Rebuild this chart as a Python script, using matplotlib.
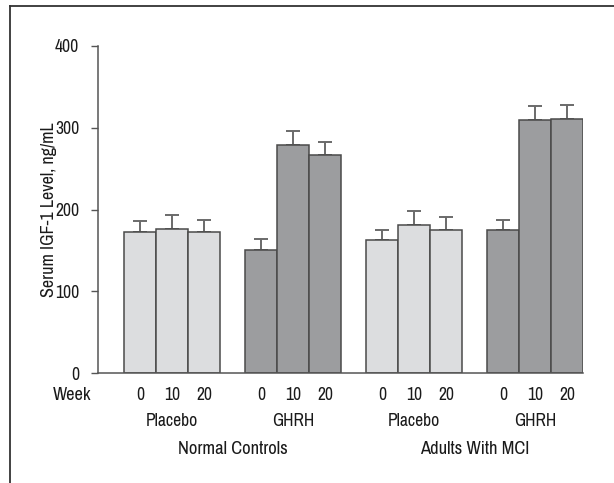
import matplotlib
matplotlib.use("Agg")
import matplotlib.pyplot as plt
import matplotlib.transforms as mtransforms
from matplotlib.lines import Line2D

plt.rcParams['font.family'] = ['Archivo Narrow', 'DejaVu Sans']

groups = ["Normal Controls", "Adults With MCI"]
treatments = ["Placebo", "GHRH", "Placebo", "GHRH"]
weeks = ["0", "10", "20"]
nc_placebo = [173, 176, 172]
nc_ghrh = [151, 279, 267]
mci_placebo = [163, 181, 175]
mci_ghrh = [175, 309, 311]
err_nc_placebo = [13, 17, 15]
err_nc_ghrh = [13, 17, 15]
err_mci_placebo = [12, 17, 16]
err_mci_ghrh = [12, 18, 17]

series = [nc_placebo, nc_ghrh, mci_placebo, mci_ghrh]
errors = [err_nc_placebo, err_nc_ghrh, err_mci_placebo, err_mci_ghrh]
colors = ["#dcdddf", "#9c9d9f", "#dcdddf", "#9c9d9f"]

W, H = 614, 483
AX_L, AX_R, AX_T, AX_B = 98, 583, 46, 373
fig = plt.figure(figsize=(W / 100, H / 100), dpi=100)
ax = fig.add_axes([AX_L / W, 1 - AX_B / H, (AX_R - AX_L) / W, (AX_B - AX_T) / H])

step = 3.78
fs = 12.6
tc = "#1a1a1a"
tr = mtransforms.blended_transform_factory(ax.transData, ax.transAxes)
for g, (vals, errs, col) in enumerate(zip(series, errors, colors)):
    xs = [g * step + i + 0.5 for i in range(3)]
    ax.errorbar(xs, vals, yerr=[[0] * 3, errs], fmt="none", ecolor="#6a6a6a",
                elinewidth=1.4, capsize=4.7, capthick=1.4, zorder=1)
    ax.bar(xs, vals, width=1.0, color=col, edgecolor="#4a4a4a", linewidth=1.1, zorder=2)
    for x, w in zip(xs, weeks):
        ax.text(x, -0.066, w, transform=tr, ha="center", va="center", fontsize=fs, color=tc)
    ax.text(g * step + 1.5, -0.147, treatments[g], transform=tr,
            ha="center", va="center", fontsize=fs, color=tc)

for k, name in enumerate(groups):
    xc = (k * 2 * step + (k * 2 + 1) * step + 3) / 2
    ax.text(xc, -0.232, name, transform=tr, ha="center", va="center", fontsize=13.3, color=tc)

fig.text(91 / W, 1 - 395 / H, "Week", ha="right", va="center", fontsize=13.2, color=tc)

ax.set_xlim(-0.8125, 3 * step + 3)
ax.set_ylim(0, 400)
ax.set_yticks([0, 100, 200, 300, 400])
ax.set_xticks([])
ax.tick_params(axis="y", direction="out", length=5, width=1, color="#555555",
               labelsize=fs, labelcolor=tc, pad=8.5)
for s in ["top", "right"]:
    ax.spines[s].set_visible(False)
for s in ["left", "bottom"]:
    ax.spines[s].set_color("#555555")
    ax.spines[s].set_linewidth(1.1)
ax.set_ylabel("Serum IGF-1 Level, ng/mL", fontsize=13, color=tc, ha="center", va="center")
ax.yaxis.set_label_coords((49.5 - AX_L) / (AX_R - AX_L), 0.5)

fig.add_artist(Line2D([10 / W, 10 / W], [0, 1 - 5.7 / H], transform=fig.transFigure,
                      color="#333333", linewidth=1.3))
fig.add_artist(Line2D([10 / W, 1], [1 - 5.7 / H, 1 - 5.7 / H], transform=fig.transFigure,
                      color="#333333", linewidth=1.3))

fig.savefig("out.png", dpi=100)
